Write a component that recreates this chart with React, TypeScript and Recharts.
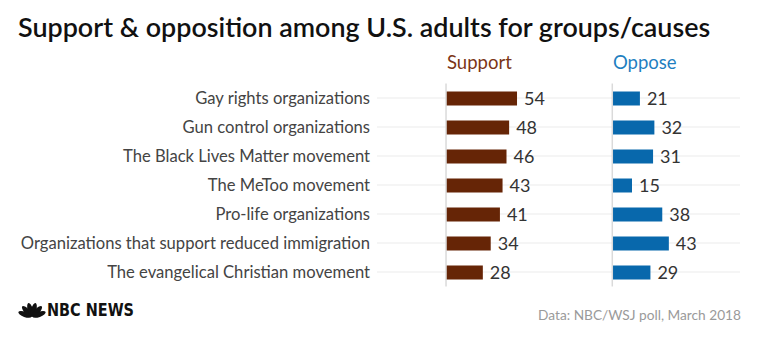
import React from 'react';
import { BarChart, Bar, XAxis, YAxis, CartesianGrid, ReferenceLine, LabelList } from 'recharts';

const categories = [
  'Gay rights organizations',
  'Gun control organizations',
  'The Black Lives Matter movement',
  'The MeToo movement',
  'Pro-life organizations',
  'Organizations that support reduced immigration',
  'The evangelical Christian movement',
];
const supportValues = [54, 48, 46, 43, 41, 34, 28];
const opposeValues = [21, 32, 31, 15, 38, 43, 29];
const seriesNames = ['Support', 'Oppose'];
const titleText = 'Support & opposition among U.S. adults for groups/causes';
const sourceText = 'Data: NBC/WSJ poll, March 2018';

const data = categories.map((c, i) => ({ category: c, support: supportValues[i], oppose: opposeValues[i] }));

const FONT = 'Lato, "Open Sans", sans-serif';
const SUPPORT_COLOR = '#662506';
const OPPOSE_COLOR = '#0868ac';

const SUPPORT_DOMAIN: [number, number] = [-52.5, 223.6];
const OPPOSE_DOMAIN: [number, number] = [-178.9, 97.1];

function Peacock() {
  const feathers = [-70, -42, -14, 14, 42, 70];
  return (
    <g>
      {feathers.map((a, i) => (
        <ellipse key={i} cx={32} cy={309.5} rx={2.6} ry={7} fill="#111" transform={`rotate(${a} 32 317)`} />
      ))}
    </g>
  );
}

const gridCentres = (props: any) => {
  const yAxis = props && props.yAxis;
  const scale = yAxis && yAxis.scale;
  if (typeof scale === 'function') {
    const bw = typeof scale.bandwidth === 'function' ? scale.bandwidth() : 0;
    return categories.map((c) => scale(c) + bw / 2);
  }
  const off = props && props.offset;
  if (!off) return [];
  const band = off.height / categories.length;
  return categories.map((_, i) => off.top + band * (i + 0.5));
};

export default function App() {
  return (
    <div style={{ position: 'absolute', left: 0, top: 0, width: 760, height: 340, background: '#fff' }}>
      <svg width={760} height={340} style={{ position: 'absolute', left: 0, top: 0 }}>
        <text x={18} y={37} fontFamily={FONT} fontSize={26.9} fontWeight={600} fill="#111">{titleText}</text>
        <text x={447} y={69} fontFamily={FONT} fontSize={18.5} fill="#7b3516">{seriesNames[0]}</text>
        <text x={613} y={69} fontFamily={FONT} fontSize={18.5} fill="#1f7fc1">{seriesNames[1]}</text>
        <Peacock />
        <text x={47} y={316} fontFamily='"Liberation Sans Narrow", "DejaVu Sans Condensed", sans-serif' fontSize={18} fontWeight={700} fill="#111" textLength={87} lengthAdjust="spacingAndGlyphs">NBC NEWS</text>
        <text x={741} y={320} textAnchor="end" fontFamily={FONT} fontSize={13.7} fill="#9a9a9a">{sourceText}</text>
      </svg>
      <div style={{ position: 'absolute', left: 0, top: 0 }}>
        <BarChart width={760} height={340} data={data} layout="vertical" margin={{ top: 83.5, right: 20, bottom: 53.5, left: 0 }}>
          <CartesianGrid
            horizontal
            vertical={false}
            stroke="#ebebeb"
            xAxisId="s"
            yAxisId="a"
            horizontalCoordinatesGenerator={gridCentres}
          />
          <XAxis xAxisId="s" type="number" domain={SUPPORT_DOMAIN} hide allowDataOverflow />
          <XAxis xAxisId="o" type="number" domain={OPPOSE_DOMAIN} hide allowDataOverflow />
          <YAxis
            yAxisId="a"
            type="category"
            dataKey="category"
            width={377}
            axisLine={false}
            tickLine={false}
            tickSize={0}
            tickMargin={7}
            interval={0}
            tick={{ fill: '#444', fontSize: 16.6, fontFamily: FONT }}
          />
          <YAxis yAxisId="b" type="category" dataKey="category" hide />
          <ReferenceLine x={0} xAxisId="s" yAxisId="a" stroke="#dadada" strokeWidth={1.5} />
          <ReferenceLine x={0} xAxisId="o" yAxisId="a" stroke="#dadada" strokeWidth={1.5} />
          <Bar dataKey="support" xAxisId="s" yAxisId="a" fill={SUPPORT_COLOR} barSize={14} isAnimationActive={false}>
            <LabelList dataKey="support" position="right" offset={7} fill="#333" fontSize={18} fontFamily={FONT} />
          </Bar>
          <Bar dataKey="oppose" xAxisId="o" yAxisId="b" fill={OPPOSE_COLOR} barSize={14} isAnimationActive={false}>
            <LabelList dataKey="oppose" position="right" offset={7} fill="#333" fontSize={18} fontFamily={FONT} />
          </Bar>
        </BarChart>
      </div>
    </div>
  );
}
